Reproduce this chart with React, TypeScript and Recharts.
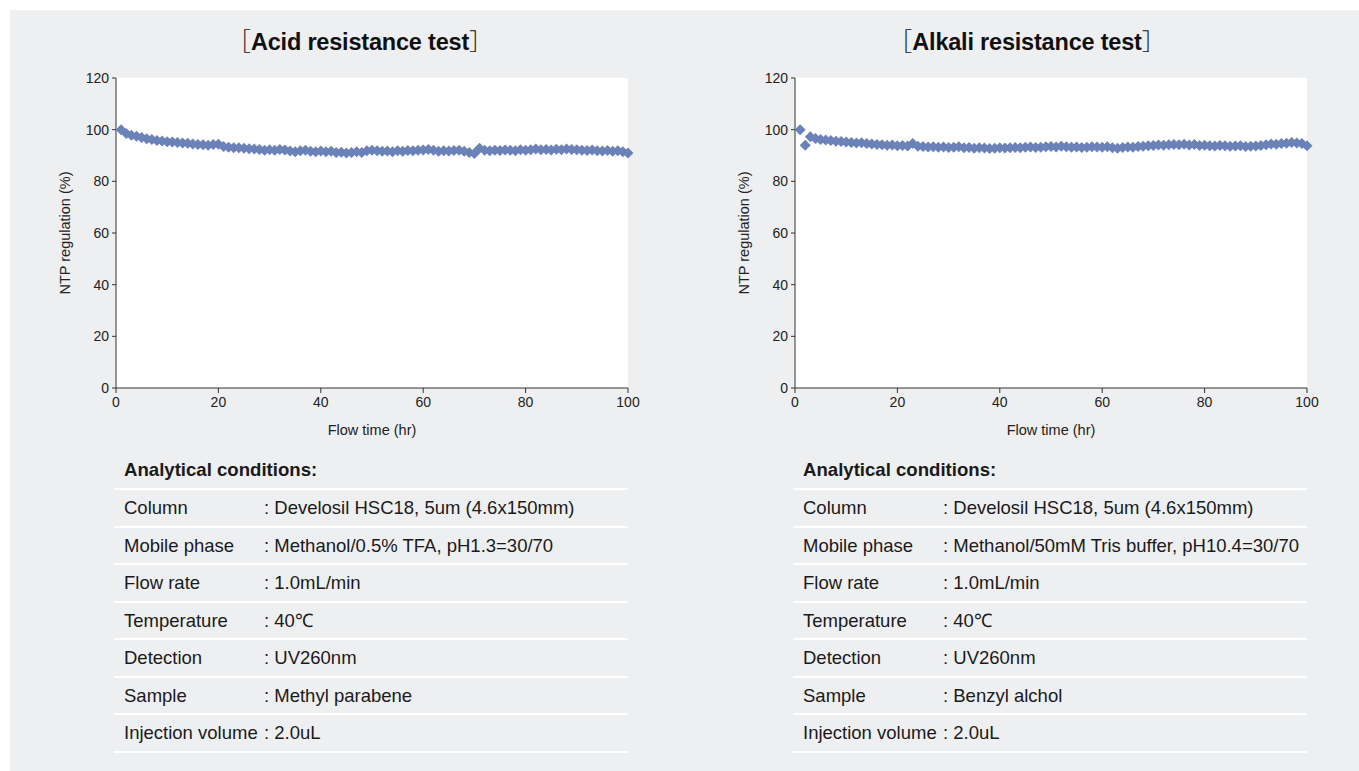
import React from 'react'
import { ScatterChart, Scatter, XAxis, YAxis, CartesianGrid } from 'recharts'

// Flow time (hr) for each measurement
const hours = [
  1, 2, 3, 4, 5, 6, 7, 8, 9, 10, 11, 12, 13, 14, 15, 16, 17, 18, 19, 20,
  21, 22, 23, 24, 25, 26, 27, 28, 29, 30, 31, 32, 33, 34, 35, 36, 37, 38, 39, 40,
  41, 42, 43, 44, 45, 46, 47, 48, 49, 50, 51, 52, 53, 54, 55, 56, 57, 58, 59, 60,
  61, 62, 63, 64, 65, 66, 67, 68, 69, 70, 71, 72, 73, 74, 75, 76, 77, 78, 79, 80,
  81, 82, 83, 84, 85, 86, 87, 88, 89, 90, 91, 92, 93, 94, 95, 96, 97, 98, 99, 100,
]

// NTP regulation (%) - acid test
const acidValues = [
  100, 98.5, 97.8, 97.5, 97, 96.5, 96.2, 95.8, 95.6, 95.3, 95.2, 95, 94.8, 94.7, 94.5, 94.3, 94.2, 94, 94.3, 94.4,
  93.5, 93.2, 93, 93, 92.8, 92.6, 92.5, 92.3, 92, 92.2, 92, 92.3, 92.1, 91.7, 91.5, 91.8, 92, 91.6, 91.5, 91.7,
  91.5, 91.6, 91.2, 91.3, 91, 91.2, 91.5, 91.2, 91.8, 92, 91.8, 91.6, 91.7, 91.5, 91.8, 91.6, 91.9, 91.8, 92, 92.1,
  92.3, 92, 91.6, 91.8, 91.7, 91.9, 92, 91.6, 91.2, 90.8, 92.8, 92, 91.8, 92, 91.9, 92.1, 92, 91.8, 92.2, 92,
  92.2, 92.5, 92.2, 92.3, 92.1, 92.4, 92.2, 92.5, 92.3, 92.2, 92, 91.9, 92.1, 91.8, 91.7, 91.9, 91.6, 91.8, 91.5, 91,
]

// NTP regulation (%) - alkali test
const alkaliValues = [
  100, 94, 97.3, 96.6, 96.2, 96, 95.8, 95.5, 95.4, 95.2, 95, 94.8, 94.9, 94.6, 94.5, 94.3, 94.2, 94, 94.1, 93.8,
  93.9, 93.7, 94.6, 93.6, 93.5, 93.3, 93.4, 93.2, 93.3, 93.1, 93.2, 93.4, 93, 93.1, 92.8, 93, 92.9, 92.7, 92.8, 93,
  92.9, 93, 93.1, 93, 93.2, 93.3, 93.1, 93.2, 93.4, 93.5, 93.3, 93.6, 93.4, 93.2, 93.3, 93.1, 93.2, 93.4, 93.3, 93.2,
  93.4, 93, 92.8, 93.1, 93.3, 93.2, 93.5, 93.6, 93.8, 93.9, 94.1, 94, 94.2, 94.3, 94.2, 94.4, 94.1, 94.3, 93.9, 94,
  93.8, 93.7, 93.9, 93.8, 93.6, 93.7, 93.8, 93.5, 93.6, 93.7, 93.9, 94.2, 94.5, 94.4, 94.6, 94.7, 95, 94.8, 94.6, 93.8,
]

const xTicks = [0, 20, 40, 60, 80, 100]
const yTicks = [0, 20, 40, 60, 80, 100, 120]

const conditionLabels = ['Column', 'Mobile phase', 'Flow rate', 'Temperature', 'Detection', 'Sample', 'Injection volume']
const acidConditionValues = [
  'Develosil HSC18, 5um (4.6x150mm)',
  'Methanol/0.5% TFA, pH1.3=30/70',
  '1.0mL/min',
  '40℃',
  'UV260nm',
  'Methyl parabene',
  '2.0uL',
]
const alkaliConditionValues = [
  'Develosil HSC18, 5um (4.6x150mm)',
  'Methanol/50mM Tris buffer, pH10.4=30/70',
  '1.0mL/min',
  '40℃',
  'UV260nm',
  'Benzyl alchol',
  '2.0uL',
]

const FONT = '"Liberation Sans", Arial, Helvetica, sans-serif'
const CJK = '"Noto Sans CJK JP", "Noto Sans CJK SC", sans-serif'
const MARKER = '#6b82b8'
const AXIS = '#333333'

const Diamond = (props: any) => {
  const { cx, cy } = props
  if (cx == null || cy == null) return null
  const r = 5.5
  return <polygon points={`${cx},${cy - r} ${cx + r},${cy} ${cx},${cy + r} ${cx - r},${cy}`} fill={MARKER} />
}

const YTitle = (props: any) => {
  const { viewBox } = props
  const x = viewBox.x + 9
  const y = viewBox.y + viewBox.height / 2
  return (
    <text x={x} y={y} transform={`rotate(-90 ${x} ${y})`} textAnchor="middle" dominantBaseline="central"
      fontSize={14.5} fill="#222" fontFamily={FONT}>
      NTP regulation (%)
    </text>
  )
}

const XTitle = (props: any) => {
  const { viewBox } = props
  return (
    <text x={viewBox.x + viewBox.width / 2} y={viewBox.y + 47} textAnchor="middle"
      fontSize={14.5} fill="#222" fontFamily={FONT}>
      Flow time (hr)
    </text>
  )
}

function Panel({ left, title, titleCenter, values, condValues }: {
  left: number; title: string; titleCenter: number; values: number[]; condValues: string[]
}) {
  const data = hours.map((hr, i) => ({ hr, value: values[i] }))
  return (
    <div style={{ position: 'absolute', left, top: 0, width: 680, height: 771 }}>
      <div style={{
        position: 'absolute', left: titleCenter - 200, width: 400, top: 26, textAlign: 'center',
        fontSize: 23.5, lineHeight: '28px', color: '#111', fontFamily: FONT, whiteSpace: 'nowrap',
      }}>
        <span style={{ fontWeight: 300, fontFamily: CJK }}>［</span>
        <span style={{ fontWeight: 700, letterSpacing: -0.2 }}>{title}</span>
        <span style={{ fontWeight: 300, fontFamily: CJK }}>］</span>
      </div>
      <div style={{ position: 'absolute', left: 0, top: 0 }}>
        <ScatterChart width={660} height={450} margin={{ top: 78, right: 32, left: 56, bottom: 12 }}>
          <CartesianGrid horizontal={false} vertical={false} fill="#ffffff" stroke="none" />
          <XAxis type="number" dataKey="hr" domain={[0, 100]} ticks={xTicks} height={50}
            tickSize={5} tickMargin={4} axisLine={{ stroke: AXIS }} tickLine={{ stroke: AXIS }}
            tick={{ fontSize: 14, fill: '#222', fontFamily: FONT }} label={<XTitle />} />
          <YAxis type="number" dataKey="value" domain={[0, 120]} ticks={yTicks} width={60}
            tickSize={4} tickMargin={3} axisLine={{ stroke: AXIS }} tickLine={{ stroke: AXIS }}
            tick={{ fontSize: 14, fill: '#222', fontFamily: FONT }} label={<YTitle />} />
          <Scatter data={data} shape={<Diamond />} isAnimationActive={false} />
        </ScatterChart>
      </div>
      <div style={{ position: 'absolute', left: 114, top: 452, width: 514, fontFamily: FONT, color: '#1a1a1a' }}>
        <div style={{
          height: 38, boxSizing: 'border-box', borderBottom: '2px solid #ffffff', paddingLeft: 10,
          fontSize: 18.6, fontWeight: 700, lineHeight: '36px',
        }}>
          Analytical conditions:
        </div>
        {conditionLabels.map((label, i) => (
          <div key={label} style={{
            height: 37.5, boxSizing: 'border-box', borderBottom: '2px solid #ffffff', paddingLeft: 10,
            fontSize: 18.5, lineHeight: '35.5px', display: 'flex', whiteSpace: 'nowrap',
          }}>
            <span style={{ width: 140, flex: 'none' }}>{label}</span>
            <span>: {condValues[i]}</span>
          </div>
        ))}
      </div>
    </div>
  )
}

export default function App() {
  return (
    <div style={{ position: 'absolute', left: 0, top: 0, width: 1359, height: 771, background: '#ffffff', overflow: 'hidden' }}>
      <div style={{ position: 'absolute', left: 10, top: 10, right: 0, bottom: 0, background: '#eeeff1' }} />
      <Panel left={0} title="Acid resistance test" titleCenter={360} values={acidValues} condValues={acidConditionValues} />
      <Panel left={679} title="Alkali resistance test" titleCenter={348} values={alkaliValues} condValues={alkaliConditionValues} />
    </div>
  )
}
